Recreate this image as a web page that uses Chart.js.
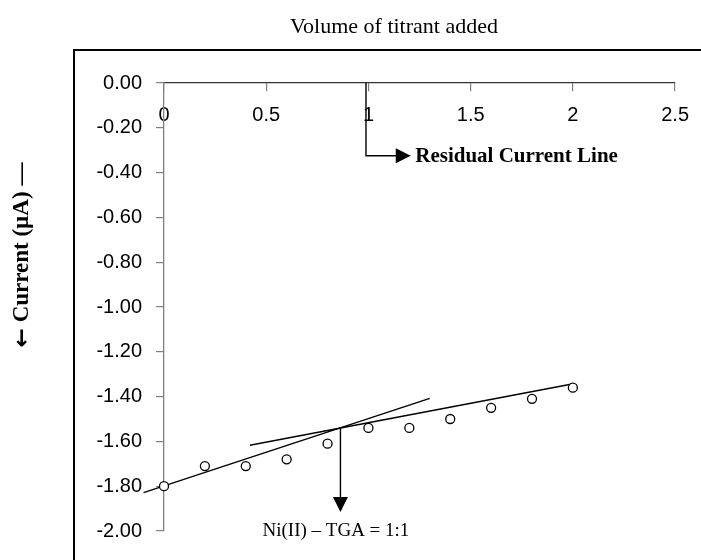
<!DOCTYPE html>
<html lang="en">
<head>
    <meta charset="UTF-8">
    <title>Amperometric titration - Ni(II) with TGA</title>
    <style>
        body { margin: 0; background: #fff; }
        #wrap { width: 701px; height: 560px; }
    </style>
</head>
<body>
    <div id="wrap">
        <canvas id="titration-chart" width="701" height="560"></canvas>
    </div>

    <script src="https://cdn.jsdelivr.net/npm/chart.js"></script>
    <script>
        // Measured points
        const volume = [0, 0.2, 0.4, 0.6, 0.8, 1.0, 1.2, 1.4, 1.6, 1.8, 2.0];
        const current = [-1.80, -1.71, -1.71, -1.68, -1.61, -1.54, -1.54, -1.50, -1.45, -1.41, -1.36];

        // Two straight lines drawn through the points
        const steepLineX = [-0.10, 1.30];
        const steepLineY = [-1.829, -1.408];
        const flatLineX = [0.42, 1.99];
        const flatLineY = [-1.617, -1.345];

        // Annotation arrows (data units)
        const endPointArrowX = [0.863, 0.863];
        const endPointArrowY = [-1.537, -1.915];
        const residualArrowX = [0.988, 0.988, 1.207];
        const residualArrowY = [0, -0.325, -0.325];

        // Texts
        const chartTitle = 'Volume of titrant added';
        const yTitleArrow = '\u2190';
        const yTitle = ' Current (\u00b5A) \u2014';
        const residualLabel = 'Residual Current Line';
        const endPointLabel = 'Ni(II) \u2013 TGA = 1:1';

        const serif = '"Liberation Serif", "Times New Roman", serif';
        const toPoints = (xs, ys) => xs.map((x, i) => ({ x: x, y: ys[i] }));

        function arrowHead(ctx, x, y, dir, size) {
            // dir: 'down' or 'right', tip at (x, y)
            ctx.beginPath();
            if (dir === 'down') {
                ctx.moveTo(x, y);
                ctx.lineTo(x - size / 2, y - size);
                ctx.lineTo(x + size / 2, y - size);
            } else {
                ctx.moveTo(x, y);
                ctx.lineTo(x - size, y - size / 2);
                ctx.lineTo(x - size, y + size / 2);
            }
            ctx.closePath();
            ctx.fill();
        }

        const annotations = {
            id: 'annotations',
            beforeDraw(chart) {
                const ctx = chart.ctx;
                ctx.save();
                // outer frame
                ctx.strokeStyle = '#000';
                ctx.lineWidth = 2;
                ctx.beginPath();
                ctx.moveTo(74, 562);
                ctx.lineTo(74, 50);
                ctx.lineTo(703, 50);
                ctx.stroke();

                ctx.fillStyle = '#000';
                ctx.font = '22px ' + serif;
                ctx.textAlign = 'center';
                ctx.textBaseline = 'alphabetic';
                ctx.fillText(chartTitle, 394, 33);

                // rotated y title, arrow drawn in a font with a full size glyph
                ctx.translate(22, 255);
                ctx.rotate(-Math.PI / 2);
                ctx.textAlign = 'left';
                ctx.textBaseline = 'middle';
                const arrowFont = 'bold 23px "DejaVu Sans", sans-serif';
                const textFont = 'bold 23px ' + serif;
                ctx.font = arrowFont;
                const wA = ctx.measureText(yTitleArrow).width;
                ctx.font = textFont;
                const wT = ctx.measureText(yTitle).width;
                const start = -(wA + wT) / 2;
                ctx.font = arrowFont;
                ctx.fillText(yTitleArrow, start, 1);
                ctx.font = textFont;
                ctx.fillText(yTitle, start + wA, 0);
                ctx.restore();
            },
            afterDatasetsDraw(chart) {
                const ctx = chart.ctx;
                const xs = chart.scales.x;
                const ys = chart.scales.y;
                ctx.save();
                ctx.strokeStyle = '#000';
                ctx.fillStyle = '#000';
                ctx.lineWidth = 1.4;

                // end point arrow
                const ax = xs.getPixelForValue(endPointArrowX[0]);
                const ay1 = ys.getPixelForValue(endPointArrowY[0]);
                const ay2 = ys.getPixelForValue(endPointArrowY[1]);
                ctx.beginPath();
                ctx.moveTo(ax, ay1);
                ctx.lineTo(ax, ay2 - 10);
                ctx.stroke();
                arrowHead(ctx, ax, ay2, 'down', 15);

                // residual current arrow
                ctx.beginPath();
                residualArrowX.forEach((v, i) => {
                    const px = xs.getPixelForValue(v);
                    const py = ys.getPixelForValue(residualArrowY[i]);
                    const last = i === residualArrowX.length - 1;
                    if (i === 0) ctx.moveTo(px, py);
                    else ctx.lineTo(last ? px - 10 : px, py);
                });
                ctx.stroke();
                const last = residualArrowX.length - 1;
                arrowHead(ctx, xs.getPixelForValue(residualArrowX[last]),
                    ys.getPixelForValue(residualArrowY[last]), 'right', 15);

                ctx.font = 'bold 21px ' + serif;
                ctx.textAlign = 'left';
                ctx.textBaseline = 'middle';
                ctx.fillText(residualLabel, xs.getPixelForValue(1.229), ys.getPixelForValue(-0.33));

                ctx.font = '19px ' + serif;
                ctx.textAlign = 'center';
                ctx.fillText(endPointLabel, xs.getPixelForValue(0.841), ys.getPixelForValue(-2.0));
                ctx.restore();
            }
        };

        const tickFont = { family: '"Liberation Sans", Arial, sans-serif', size: 20 };

        const ctx = document.getElementById('titration-chart').getContext('2d');
        new Chart(ctx, {
            type: 'scatter',
            data: {
                datasets: [
                    {
                        label: 'Current',
                        data: toPoints(volume, current),
                        pointStyle: 'circle',
                        pointRadius: 4.5,
                        borderColor: '#000',
                        backgroundColor: '#fff',
                        borderWidth: 1.3,
                        clip: false,
                        order: 0
                    },
                    {
                        type: 'line',
                        label: 'Before end point',
                        data: toPoints(steepLineX, steepLineY),
                        borderColor: '#000',
                        borderWidth: 1.4,
                        pointRadius: 0,
                        clip: false,
                        order: 1
                    },
                    {
                        type: 'line',
                        label: 'After end point',
                        data: toPoints(flatLineX, flatLineY),
                        borderColor: '#000',
                        borderWidth: 1.4,
                        pointRadius: 0,
                        clip: false,
                        order: 1
                    }
                ]
            },
            options: {
                responsive: false,
                animation: false,
                layout: { padding: { top: 83, right: 24, bottom: 29, left: 0 } },
                plugins: {
                    legend: { display: false },
                    tooltip: { enabled: false }
                },
                scales: {
                    x: {
                        type: 'linear',
                        position: { y: 0 },
                        min: 0,
                        max: 2.5,
                        ticks: {
                            stepSize: 0.5,
                            padding: 12,
                            maxRotation: 0,
                            color: '#000',
                            font: tickFont,
                            callback: v => String(v)
                        },
                        grid: { drawOnChartArea: false, tickLength: 8, color: '#808080', lineWidth: 1.2 },
                        border: { color: '#333', width: 1.3 }
                    },
                    y: {
                        min: -2,
                        max: 0,
                        afterFit: scale => { scale.width = 164; },
                        ticks: {
                            stepSize: 0.2,
                            padding: 14,
                            color: '#000',
                            font: tickFont,
                            callback: v => (Math.abs(v) < 1e-9 ? 0 : v).toFixed(2)
                        },
                        grid: { drawOnChartArea: false, tickLength: 8, color: '#808080', lineWidth: 1.2 },
                        border: { color: '#808080', width: 1.3 }
                    }
                }
            },
            plugins: [annotations]
        });
    </script>
</body>
</html>
